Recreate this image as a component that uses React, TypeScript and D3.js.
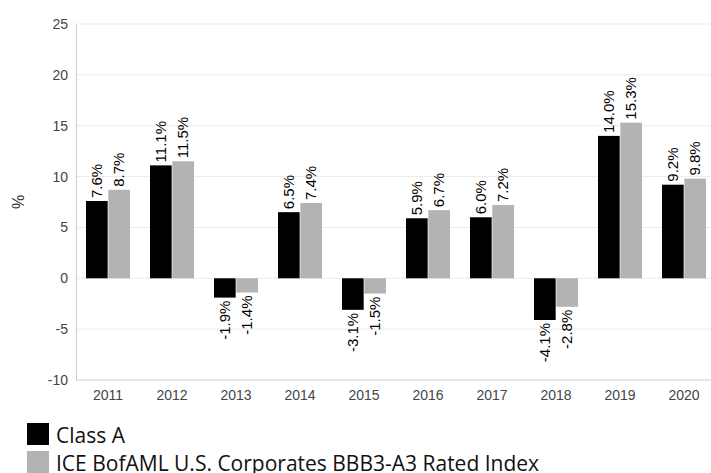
import React from 'react';
import { useRef, useEffect } from 'react';
import { select, scaleBand, scaleLinear, axisLeft, axisBottom } from 'd3';

const years = ['2011', '2012', '2013', '2014', '2015', '2016', '2017', '2018', '2019', '2020'];
const classA = [7.6, 11.1, -1.9, 6.5, -3.1, 5.9, 6.0, -4.1, 14.0, 9.2];
const indexVals = [8.7, 11.5, -1.4, 7.4, -1.5, 6.7, 7.2, -2.8, 15.3, 9.8];
const seriesNames = ['Class A', 'ICE BofAML U.S. Corporates BBB3-A3 Rated Index'];
const seriesColors = ['#000000', '#b3b3b3'];
const yTicks = [-10, -5, 0, 5, 10, 15, 20, 25];

function App() {
  const svgRef = useRef<SVGSVGElement>(null);

  useEffect(() => {
    const svg = select(svgRef.current);
    svg.selectAll('*').remove();

    const left = 76, right = 716, top = 24, bottom = 380;
    const x = scaleBand().domain(years).range([left, right]);
    const y = scaleLinear().domain([-10, 25]).range([bottom, top]);
    const inner = scaleBand().domain(['0', '1']).range([10, 54]).paddingInner(0.03);
    const font = 'Liberation Sans, Arial, sans-serif';

    // grid
    svg.append('g')
      .selectAll('line')
      .data(yTicks.filter(t => t !== -10))
      .join('line')
      .attr('x1', left).attr('x2', 711)
      .attr('y1', d => y(d)).attr('y2', d => y(d))
      .attr('stroke', '#ebebeb');

    const yAxis = svg.append('g').attr('transform', `translate(${left},0)`)
      .call(axisLeft(y).tickValues(yTicks).tickFormat(d => String(d)).tickSize(0).tickPadding(8));
    yAxis.select('.domain').attr('stroke', '#cccccc');
    yAxis.selectAll('text').attr('font-family', font).attr('font-size', 14).attr('fill', '#444');

    const xAxis = svg.append('g').attr('transform', `translate(0,${bottom})`)
      .call(axisBottom(x).tickSize(0).tickPadding(10));
    xAxis.select('.domain').attr('stroke', '#cccccc').attr('d', `M${left},0H711`);
    xAxis.selectAll('text').attr('font-family', font).attr('font-size', 14).attr('fill', '#444');

    svg.append('text')
      .attr('transform', `translate(24,${(top + bottom) / 2}) rotate(-90)`)
      .attr('text-anchor', 'middle')
      .attr('font-family', font).attr('font-size', 16).attr('fill', '#333')
      .text('%');

    const series = [classA, indexVals];
    series.forEach((vals, si) => {
      const g = svg.append('g');
      g.selectAll('rect')
        .data(vals)
        .join('rect')
        .attr('x', (d, i) => (x(years[i]) ?? 0) + (inner(String(si)) ?? 0))
        .attr('width', inner.bandwidth())
        .attr('y', d => y(Math.max(0, d)))
        .attr('height', d => Math.abs(y(d) - y(0)))
        .attr('fill', seriesColors[si]);

      g.selectAll('text')
        .data(vals)
        .join('text')
        .attr('transform', (d, i) => {
          const cx = (x(years[i]) ?? 0) + (inner(String(si)) ?? 0) + inner.bandwidth() / 2 + 5;
          const ty = d >= 0 ? y(d) - 3 : y(d) + 3;
          return `translate(${cx},${ty}) rotate(-90)`;
        })
        .attr('text-anchor', d => (d >= 0 ? 'start' : 'end'))
        .attr('font-family', font).attr('font-size', 15).attr('fill', '#000')
        .text(d => d.toFixed(1) + '%');
    });

    const legend = svg.append('g');
    seriesNames.forEach((name, i) => {
      legend.append('rect')
        .attr('x', 27).attr('y', 423 + i * 28).attr('width', 22).attr('height', 22)
        .attr('fill', seriesColors[i]);
      legend.append('text')
        .attr('x', 56).attr('y', 443 + i * 28)
        .attr('font-family', 'Open Sans, Noto Sans, sans-serif').attr('font-size', 21).attr('fill', '#111')
        .text(name);
    });
  }, []);

  return (
    <div style={{ position: 'absolute', left: 0, top: 0 }}>
      <svg ref={svgRef} width={711} height={473} style={{ display: 'block' }} />
    </div>
  );
}

export default App;
